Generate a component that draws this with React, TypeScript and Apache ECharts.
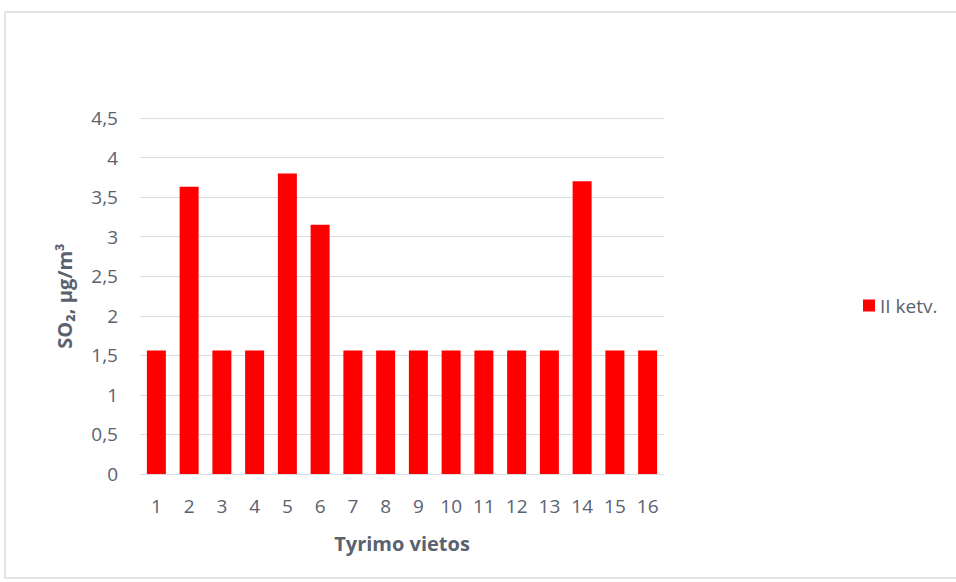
import React, { useEffect, useRef } from "react";
import * as echarts from "echarts";

const categories = ["1", "2", "3", "4", "5", "6", "7", "8", "9", "10", "11", "12", "13", "14", "15", "16"];
const seriesName = "II ketv.";
const values = [1.56, 3.63, 1.56, 1.56, 3.8, 3.15, 1.56, 1.56, 1.56, 1.56, 1.56, 1.56, 1.56, 3.7, 1.56, 1.56];
const yTicks = { min: 0, max: 4.5, interval: 0.5 };

const FONT = "'Open Sans', Lato, sans-serif";
const GREY = "#5b616e";

export default function App() {
  const ref = useRef<HTMLDivElement>(null);
  useEffect(() => {
    document.body.style.margin = "0";
    const chart = echarts.init(ref.current!, null, { renderer: "svg" });
    chart.setOption({
      animation: false,
      backgroundColor: "#ffffff",
      textStyle: { fontFamily: FONT },
      graphic: [
        {
          type: "rect",
          shape: { x: 5, y: 12, width: 960, height: 566 },
          style: { fill: "none", stroke: "#d9dce2", lineWidth: 1.5 },
          silent: true,
        },
      ],
      grid: { left: 140, right: 292, top: 118, bottom: 108 },
      legend: {
        show: true,
        left: 858,
        top: 291,
        itemWidth: 12,
        itemHeight: 12,
        itemGap: 8,
        icon: "rect",
        textStyle: { color: GREY, fontSize: 19, fontFamily: FONT },
        data: [seriesName],
      },
      xAxis: {
        type: "category",
        data: categories,
        name: "Tyrimo vietos",
        nameLocation: "middle",
        nameGap: 59,
        nameTextStyle: { color: GREY, fontSize: 20, fontWeight: "bold", fontFamily: FONT },
        axisLine: { lineStyle: { color: "#d9dce2", width: 1 } },
        axisTick: { show: false },
        axisLabel: { color: GREY, fontSize: 19, margin: 22, interval: 0 },
      },
      yAxis: {
        type: "value",
        min: yTicks.min,
        max: yTicks.max,
        interval: yTicks.interval,
        name: "SO₂, µg/m³",
        nameLocation: "middle",
        nameGap: 66,
        nameTextStyle: { color: GREY, fontSize: 20, fontWeight: "bold", fontFamily: FONT },
        axisLine: { show: false },
        axisTick: { show: false },
        axisLabel: {
          color: GREY,
          fontSize: 19,
          margin: 22,
          formatter: (v: number) => String(v).replace(".", ","),
        },
        splitLine: { lineStyle: { color: "#d9dce2", width: 1 } },
      },
      series: [
        {
          name: seriesName,
          type: "bar",
          data: values,
          barCategoryGap: "42%",
          itemStyle: { color: "#ff0000" },
        },
      ],
    });
    return () => chart.dispose();
  }, []);
  return <div ref={ref} style={{ width: 956, height: 582 }} />;
}
